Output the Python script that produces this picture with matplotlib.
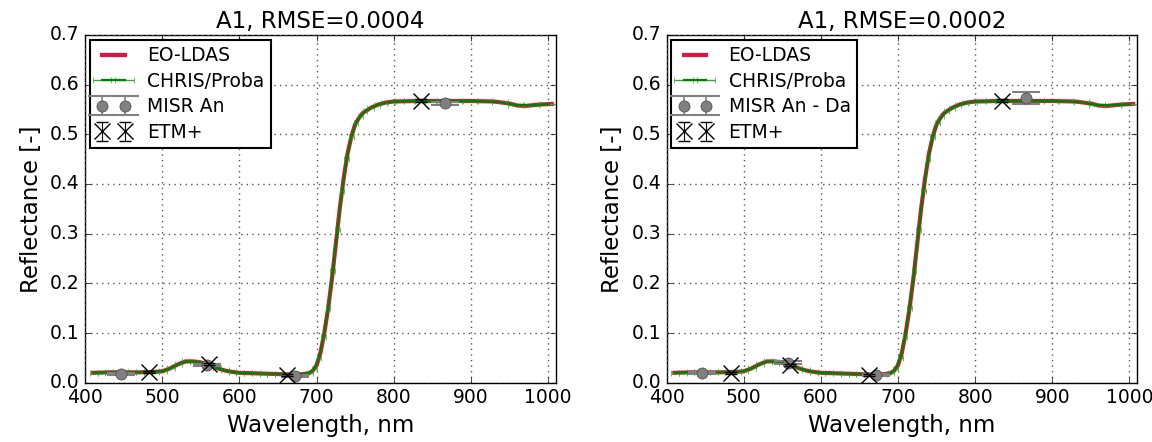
import numpy as np
import matplotlib
matplotlib.use('Agg')
import matplotlib.pyplot as plt

plt.style.use('classic')

# EO-LDAS modelled spectrum (same shape in both panels)
wl = [410, 430, 450, 470, 490, 500, 510, 520, 530, 540, 550, 560, 570, 580, 590, 600,
      620, 640, 660, 680, 690, 695, 700, 705, 710, 715, 720, 725, 730, 735, 740, 745,
      750, 755, 760, 770, 780, 790, 800, 830, 860, 900, 930, 950, 960, 970, 990, 1005]
refl = [0.020, 0.021, 0.021, 0.021, 0.022, 0.023, 0.029, 0.037, 0.043, 0.043, 0.041, 0.036,
        0.030, 0.025, 0.022, 0.020, 0.019, 0.018, 0.017, 0.017, 0.019, 0.024, 0.035, 0.060,
        0.100, 0.150, 0.210, 0.280, 0.350, 0.410, 0.460, 0.495, 0.520, 0.533, 0.543, 0.553,
        0.560, 0.564, 0.566, 0.567, 0.567, 0.567, 0.566, 0.562, 0.558, 0.557, 0.560, 0.561]

# CHRIS/Proba band centres and half widths
chris_wl = [411, 421, 431, 441, 451, 461, 471, 481, 491, 501, 511, 521, 531, 541, 551, 561,
            571, 581, 591, 601, 611, 621, 631, 641, 651, 661, 671, 681, 691, 697, 703, 709,
            715, 721, 727, 733, 739, 745, 751, 757, 763, 770, 778, 787, 797, 808, 820, 833,
            848, 864, 881, 899, 918, 938, 958, 979, 1001]
chris_xerr = [5, 5, 5, 5, 5, 5, 5, 5, 5, 5, 5, 5, 5, 5, 5, 5, 5, 5, 5, 5, 5, 5, 5, 5, 5, 5,
              5, 5, 4, 3, 3, 3, 3, 3, 3, 3, 3, 3, 3, 3, 3, 4, 4, 4, 5, 5, 6, 6, 7, 8, 8, 9,
              9, 10, 10, 10, 11]

titles = ['A1, RMSE=0.0004', 'A1, RMSE=0.0002']
misr_labels = ['MISR An', 'MISR An - Da']

misr_wl = [446, 558, 672, 866]
misr_left = [0.017, 0.035, 0.013, 0.562]
misr_left_err = [0.002, 0.002, 0.002, 0.003]
misr_right = [0.020, 0.040, 0.016, 0.573]
misr_right_err = [0.002, 0.003, 0.002, 0.012]

etm_wl = [483, 560, 662, 835]
etm_left = [0.021, 0.037, 0.016, 0.568]
etm_right = [0.020, 0.036, 0.015, 0.568]
etm_err = [0.002, 0.002, 0.002, 0.003]

misr_vals = [misr_left, misr_right]
misr_errs = [misr_left_err, misr_right_err]
etm_vals = [etm_left, etm_right]

fig, axes = plt.subplots(1, 2, figsize=(11.52, 4.42), dpi=100, facecolor='white')
fig.subplots_adjust(left=0.074, right=0.987, bottom=0.134, top=0.921, wspace=0.236)

for k, ax in enumerate(axes):
    chris_y = np.interp(chris_wl, wl, refl)
    ax.plot(wl, refl, color='#e8103c', lw=3, label='EO-LDAS', zorder=2)
    ax.errorbar(chris_wl, chris_y, xerr=chris_xerr, fmt='-', color='green', ecolor='#33aa33',
                lw=1.6, elinewidth=1, capsize=2.5, label='CHRIS/Proba', zorder=3)
    ax.errorbar(misr_wl, misr_vals[k], yerr=misr_errs[k], fmt='o', color='gray', mfc='gray',
                mec='#444444', ms=8, ecolor='gray', elinewidth=1.2, capsize=10, capthick=1.5,
                label=misr_labels[k], zorder=4)
    ax.errorbar(etm_wl, etm_vals[k], yerr=etm_err, fmt='x', color='black', ms=11, mew=1,
                ecolor='black', elinewidth=0.8, capsize=4, label='ETM+', zorder=5)
    ax.set_xlim(400, 1010)
    ax.set_ylim(0, 0.7)
    ax.set_xticks([400, 500, 600, 700, 800, 900, 1000])
    ax.set_yticks(np.arange(0, 0.71, 0.1))
    ax.set_yticklabels(['%.1f' % v for v in np.arange(0, 0.71, 0.1)])
    ax.grid(True, linestyle=':', color='#555555', lw=1)
    ax.tick_params(labelsize=13.5)
    ax.set_title(titles[k], fontsize=16.5)
    ax.set_xlabel('Wavelength, nm', fontsize=16.5)
    ax.set_ylabel('Reflectance [-]', fontsize=16.5)
    leg = ax.legend(loc='upper left', fontsize=13.5, numpoints=2, borderaxespad=0.25,
                    handlelength=1.8, labelspacing=0.35, borderpad=0.35, handletextpad=0.9)
    leg.get_frame().set_linewidth(1.5)

fig.savefig('out.png', dpi=100, facecolor='white')
